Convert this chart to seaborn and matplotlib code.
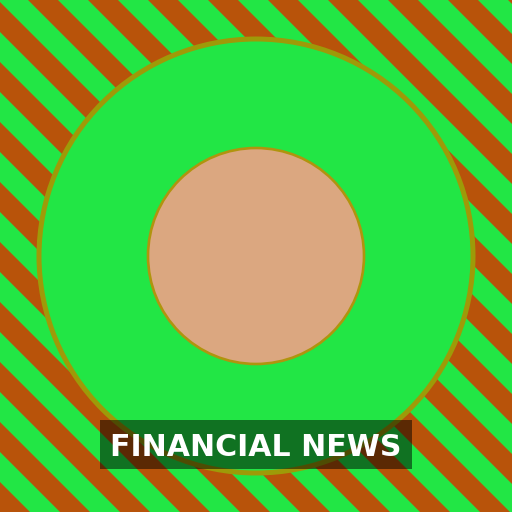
import numpy as np
import matplotlib
matplotlib.use("Agg")
import matplotlib.pyplot as plt
from matplotlib.patches import Circle, Polygon, Rectangle
import seaborn as sns

# chart values (pixel units on a 512 canvas)
stripe_offsets = [28 + 60 * k for k in range(-10, 10)]
stripe_width = 30
ring_radii = [217, 108]
ring_fills = ["#22e645", "#dba780"]
ring_edges = ["#9e9a08", "#b0940e"]
label_text = "FINANCIAL NEWS"

sns.set_theme(style="white")
plt.rcParams['font.family'] = ['DejaVu Sans']

fig = plt.figure(figsize=(5.12, 5.12), dpi=100)
ax = fig.add_axes([0, 0, 1, 1])
ax.set_xlim(0, 512)
ax.set_ylim(512, 0)
ax.set_aspect("equal")
ax.axis("off")

# background: green with diagonal orange stripes
ax.add_patch(Rectangle((0, 0), 512, 512, facecolor="#22e645", edgecolor="none", zorder=0))
y0, y1 = -40, 560
for c in stripe_offsets:
    pts = [(c + y0, y0), (c + y1, y1), (c + stripe_width + y1, y1), (c + stripe_width + y0, y0)]
    ax.add_patch(Polygon(pts, closed=True, facecolor="#b8530a", edgecolor="none", zorder=1))

# circles
lws = [3.6, 1.9]
for r, fc, ec, lw in zip(ring_radii, ring_fills, ring_edges, lws):
    ax.add_patch(Circle((256, 256), r, facecolor=fc, edgecolor=ec, linewidth=lw, zorder=2))

# label box
ax.add_patch(Rectangle((100, 420), 312, 49, facecolor="black", alpha=0.5,
                       edgecolor="none", zorder=3))
ax.text(256, 447, label_text, color="white", fontsize=21.6, fontweight="bold",
        ha="center", va="center", zorder=4)

fig.savefig("out.png", dpi=100)
